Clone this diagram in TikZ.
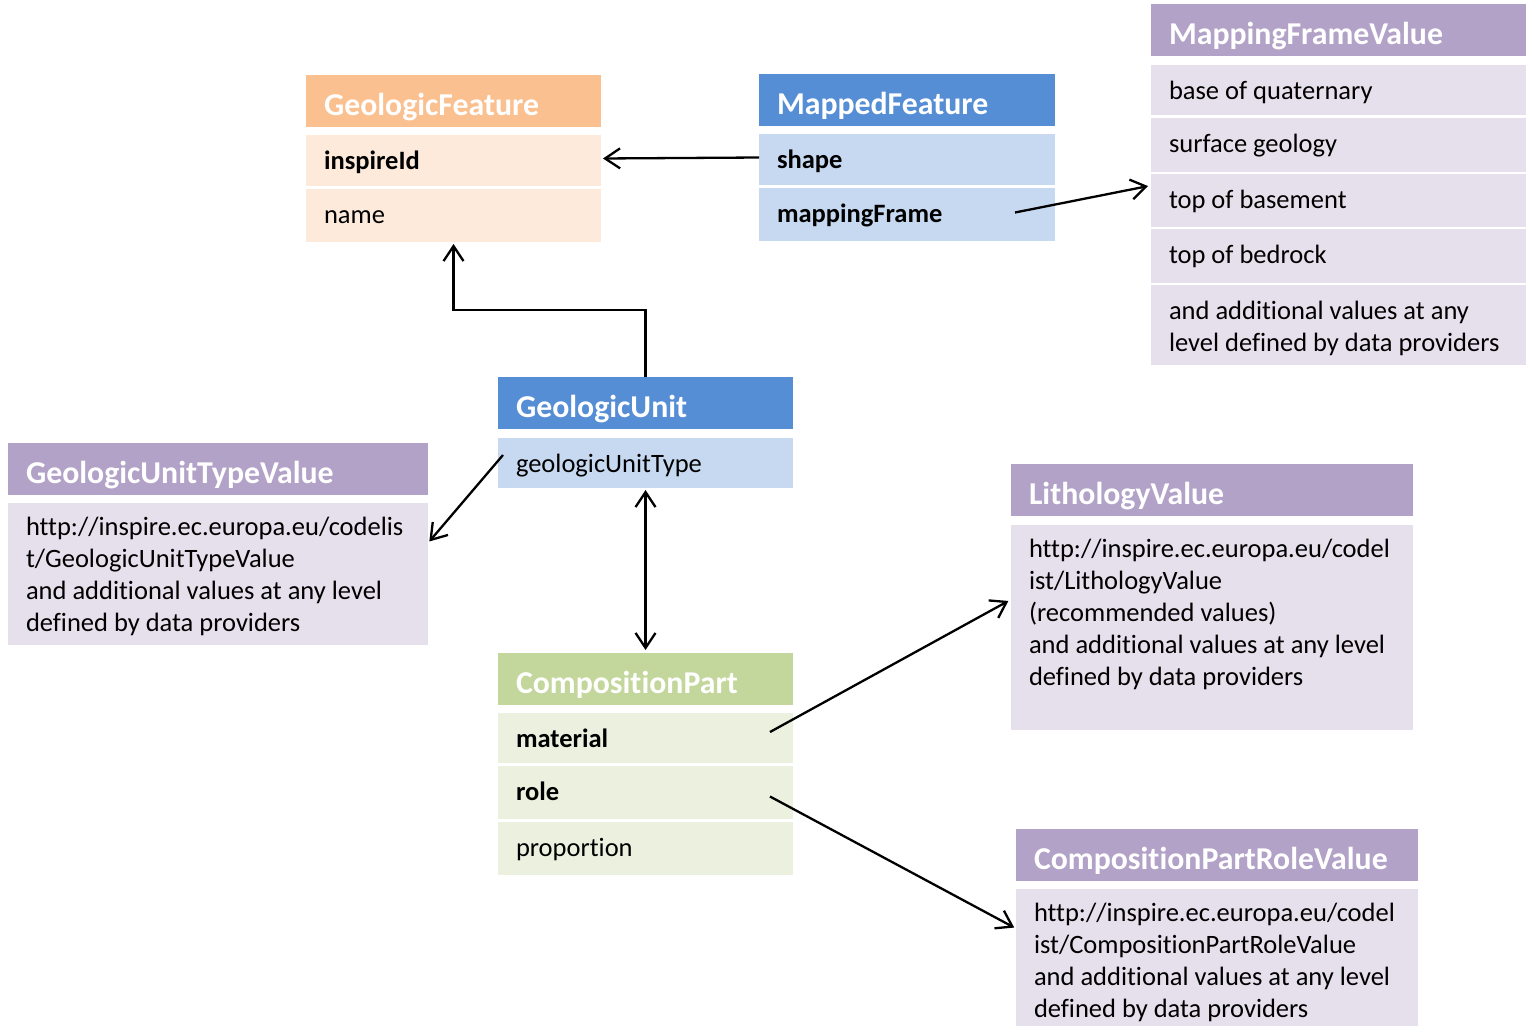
\documentclass[tikz,border=0pt]{standalone}
\usepackage{fontspec}
\setmainfont{Carlito}[Ligatures=NoCommon]
\usepackage{tikz}
\usetikzlibrary{arrows.meta}

\definecolor{orangeH}{HTML}{FAC090}
\definecolor{orangeL}{HTML}{FDEADA}
\definecolor{blueH}{HTML}{558ED5}
\definecolor{blueL}{HTML}{C6D9F1}
\definecolor{purpleH}{HTML}{B3A2C7}
\definecolor{purpleL}{HTML}{E6E0EC}
\definecolor{greenH}{HTML}{C3D69B}
\definecolor{greenL}{HTML}{EBF1DE}

\newcommand{\titlefont}{\fontsize{31.8}{36}\selectfont\bfseries}
\newcommand{\bodyfont}{\fontsize{26.5}{32}\selectfont}

\begin{document}
\begin{tikzpicture}[
            x=1pt, y=-1pt,
            >={Straight Barb[length=15pt, width=20pt]},
            box/.style={anchor=north west, inner xsep=18pt, inner ysep=0pt,
                outer sep=0pt, align=flush left, font=\bodyfont},
            wd/.style={minimum width=#1pt, text width=#1pt-36pt},
            wd/.default=295,
            hdr/.style={box, wd, text height=40pt, text depth=12pt,
                font=\titlefont, text=white},
            attr/.style={box, wd, text height=34pt, text depth=17pt},
            vals/.style={box, wd=#1, text height=32pt, fill=purpleL},
            link/.style={line width=2.3pt, ->}
        ]
        \useasboundingbox (0, 0) rectangle (1526, 1026);

        % GeologicFeature
        \node[hdr, fill=orangeH] (gfHead) at (306, 75) {GeologicFeature};
        \node[attr, fill=orangeL] (gfInspire) at (306, 135) {\textbf{inspireId}};
        \node[attr, fill=orangeL, text depth=19pt] (gfName) at (306, 189) {name};

        % MappedFeature
        \node[hdr, fill=blueH, wd=296] (mfHead) at (759, 74) {MappedFeature};
        \node[attr, fill=blueL, wd=296] (mfShape) at (759, 134) {\textbf{shape}};
        \node[attr, fill=blueL, wd=296, text depth=19pt] (mfFrame) at (759, 188) {\textbf{mappingFrame}};

        % MappingFrameValue
        \node[hdr, fill=purpleH, wd=375] (mfvHead) at (1151, 4) {MappingFrameValue};
        \node[attr, fill=purpleL, wd=375, text depth=16pt] (mfvBase) at (1151, 65) {base of quaternary};
        \node[attr, fill=purpleL, wd=375, text depth=20pt] (mfvSurface) at (1151, 118) {surface geology};
        \node[attr, fill=purpleL, wd=375, text depth=19pt] (mfvBasement) at (1151, 174) {top of basement};
        \node[attr, fill=purpleL, wd=375, text depth=20pt] (mfvBedrock) at (1151, 229) {top of bedrock};
        \node[attr, fill=purpleL, wd=375, text depth=46pt] (mfvMore) at (1151, 285)
            {and additional values at any\\level defined by data providers};

        % GeologicUnit
        \node[hdr, fill=blueH] (guHead) at (498, 377) {GeologicUnit};
        \node[attr, fill=blueL, text depth=16pt] (guType) at (498, 438) {geologicUnitType};

        % GeologicUnitTypeValue
        \node[hdr, fill=purpleH, wd=420] (gutvHead) at (8, 443) {GeologicUnitTypeValue};
        \node[vals=420, text depth=110pt] (gutvBody) at (8, 503)
            {http://inspire.ec.europa.eu/codelis\\t/GeologicUnitTypeValue\\
             and additional values at any level\\defined by data providers};

        % CompositionPart
        \node[hdr, fill=greenH] (cpHead) at (498, 653) {CompositionPart};
        \node[attr, fill=greenL, text depth=16pt] (cpMaterial) at (498, 713) {\textbf{material}};
        \node[attr, fill=greenL, text depth=19pt] (cpRole) at (498, 766) {\textbf{role}};
        \node[attr, fill=greenL, text depth=19pt] (cpProportion) at (498, 822) {proportion};

        % LithologyValue
        \node[hdr, fill=purpleH, wd=402] (lvHead) at (1011, 464) {LithologyValue};
        \node[vals=402, text depth=173pt] (lvBody) at (1011, 525)
            {http://inspire.ec.europa.eu/codel\\ist/LithologyValue\\(recommended values)\\
             and additional values at any level\\defined by data providers};

        % CompositionPartRoleValue
        \node[hdr, fill=purpleH, wd=402] (cprvHead) at (1016, 829) {CompositionPartRoleValue};
        \node[vals=402, text depth=105pt] (cprvBody) at (1016, 889)
            {http://inspire.ec.europa.eu/codel\\ist/CompositionPartRoleValue\\
             and additional values at any level\\defined by data providers};

        % connectors
        \draw[link, shorten >=2pt] ([yshift=2pt]mfShape.west) -- ([yshift=2pt]gfInspire.east);
        \draw[link, shorten >=3pt] ([xshift=-40pt, yshift=2pt]mfFrame.east)
            -- ([yshift=15pt]mfvBasement.west);
        \draw[link, shorten >=2pt] (guHead.north) -- ([yshift=67pt]guHead.north)
            -| (gfName.south);
        \draw[link, shorten >=2pt] ([xshift=5pt, yshift=8pt]guType.west)
            -- ([yshift=31pt]gutvBody.east);
        \draw[link, <->, shorten <=2pt, shorten >=3pt]
            (guType.south) -- (cpHead.north);
        \draw[link, shorten >=3pt] ([xshift=-23pt, yshift=6pt]cpMaterial.east)
            -- ([yshift=28pt]lvBody.west);
        \draw[link, shorten >=2pt] ([xshift=-23pt, yshift=-4pt]cpRole.east)
            -- ([yshift=29pt]cprvBody.west);
    \end{tikzpicture}
\end{document}
